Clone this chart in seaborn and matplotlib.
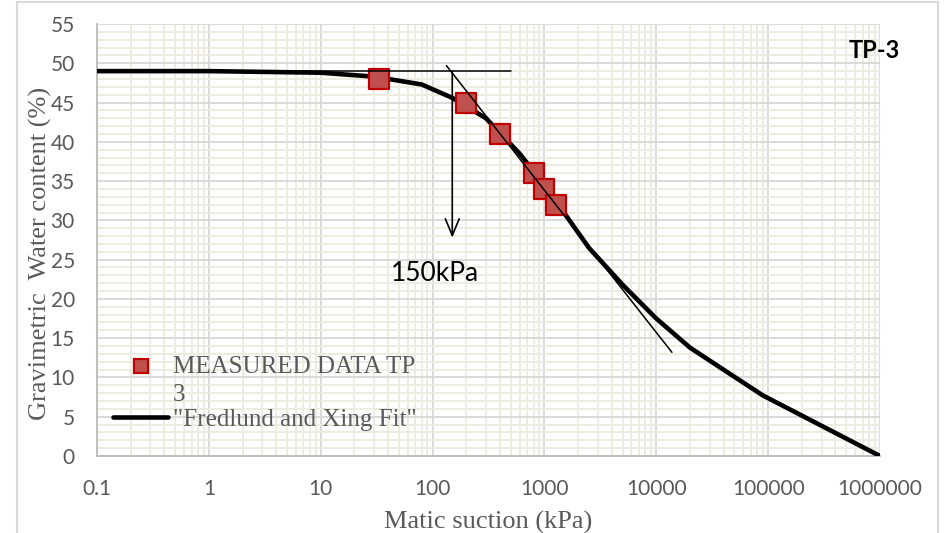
import matplotlib
matplotlib.use("Agg")
import matplotlib.pyplot as plt
import seaborn as sns
import pandas as pd
from matplotlib.lines import Line2D
from matplotlib.patches import Rectangle
from matplotlib.legend_handler import HandlerLine2D
from matplotlib.ticker import FixedLocator, FixedFormatter, LogLocator, MultipleLocator, NullFormatter

# Measured soil-water characteristic points (TP-3)
measured_suction = [33, 200, 400, 800, 1000, 1260]
measured_water = [48, 45, 41, 36, 34, 32]

# Fredlund and Xing fitted curve
fit_suction = [0.1, 1, 10, 30, 80, 150, 300, 600, 1000, 2500, 5000,
               10000, 20000, 45000, 90000, 1000000]
fit_water = [49.0, 49.0, 48.8, 48.3, 47.3, 45.6, 43.0, 38.5, 34.5, 26.5, 21.8,
             17.5, 13.8, 10.5, 7.7, 0.0]

# Construction lines for the air-entry value
plateau_suction = [0.1, 500]
plateau_water = [49.0, 49.0]
slope_suction = [133, 13800]
slope_water = [49.7, 13.2]
air_entry_kpa = 150
arrow_from_water = 49.0
arrow_to_water = 27.8

x_ticks = [0.1, 1, 10, 100, 1000, 10000, 100000, 1000000]
x_tick_labels = ["0.1", "1", "10", "100", "1000", "10000", "100000", "1000000"]
y_ticks = list(range(0, 56, 5))

sns.set_style("white")
plt.rcParams["font.family"] = ["Lato", "DejaVu Sans"]

W, H = 948, 533
fig = plt.figure(figsize=(W / 100, H / 100), dpi=100)
ax = fig.add_axes([97 / W, 1 - 456 / H, (880 - 97) / W, (456 - 24) / H])

grey_txt = "#595959"
major_grid = "#D9D9D9"
minor_grid = "#EEECE1"

measured = pd.DataFrame({"suction": measured_suction, "water": measured_water})
fit = pd.DataFrame({"suction": fit_suction, "water": fit_water})

sns.lineplot(data=fit, x="suction", y="water", ax=ax, color="black", lw=3.3,
             sort=False, estimator=None, zorder=3, legend=False)
sns.scatterplot(data=measured, x="suction", y="water", ax=ax, marker="s", s=190,
                color="#C0504D", edgecolor="#C00000", linewidth=1.6, zorder=4,
                legend=False)

ax.plot(plateau_suction, plateau_water, color="black", lw=1.1, zorder=5)
ax.plot(slope_suction, slope_water, color="black", lw=1.1, zorder=5)
ax.annotate("", xy=(air_entry_kpa, arrow_to_water), xytext=(air_entry_kpa, arrow_from_water),
            arrowprops=dict(arrowstyle="->,head_length=1.2,head_width=0.5",
                            color="black", lw=1.2, shrinkA=0, shrinkB=0), zorder=5)
ax.text(105, 23.2, "150kPa", fontsize=19, color="black", ha="center", va="center",
        zorder=6)

ax.set_xscale("log")
ax.set_xlim(0.1, 1000000)
ax.set_ylim(0, 55)
ax.xaxis.set_major_locator(FixedLocator(x_ticks))
ax.xaxis.set_major_formatter(FixedFormatter(x_tick_labels))
ax.xaxis.set_minor_locator(LogLocator(base=10, subs=range(2, 10), numticks=50))
ax.xaxis.set_minor_formatter(NullFormatter())
ax.yaxis.set_major_locator(FixedLocator(y_ticks))
ax.yaxis.set_minor_locator(MultipleLocator(1))

ax.grid(which="minor", color=minor_grid, lw=1.4, zorder=0)
ax.grid(which="major", color=major_grid, lw=1.4, zorder=1)
ax.set_axisbelow(True)

for side in ("top", "right"):
    ax.spines[side].set_visible(False)
for side in ("left", "bottom"):
    ax.spines[side].set_color("#BFBFBF")
    ax.spines[side].set_linewidth(1.4)

ax.tick_params(axis="x", which="both", direction="out", length=4.5, width=1.1,
               color="#BFBFBF", labelsize=15, labelcolor=grey_txt, pad=12)
ax.tick_params(axis="y", which="both", length=0, labelsize=15,
               labelcolor=grey_txt, pad=16)

serif = ["Liberation Serif", "DejaVu Serif"]
ax.set_xlabel("Matic suction (kPa)", fontsize=19, color=grey_txt, family=serif)
ax.xaxis.set_label_coords(0.5, -0.127)
ax.set_ylabel("Gravimetric  Water content (%)", fontsize=19, color=grey_txt,
              family=serif)
ax.yaxis.set_label_coords(-0.058, 0.47)

ax.text(1.026, 0.9375, "TP-3", transform=ax.transAxes, fontsize=17,
        fontweight="bold", color="black", ha="right", va="center")


class FirstLineMarkerHandler(HandlerLine2D):
    """Places the legend marker level with the first line of a wrapped label."""

    def __init__(self, lift, **kw):
        super().__init__(**kw)
        self.lift = lift

    def create_artists(self, legend, orig_handle, xdescent, ydescent, width,
                       height, fontsize, trans):
        artists = super().create_artists(legend, orig_handle, xdescent, ydescent,
                                         width, height, fontsize, trans)
        for a in artists:
            a.set_ydata([y + self.lift for y in a.get_ydata()])
        return artists


marker_handle = Line2D([], [], ls="none", marker="s", markersize=10.5,
                       markerfacecolor="#C0504D", markeredgecolor="#C00000",
                       markeredgewidth=1.6)
line_handle = Line2D([], [], color="black", lw=3.3)
handles = [marker_handle, line_handle]
labels = ["MEASURED DATA TP\n3", "\"Fredlund and Xing Fit\""]
leg = ax.legend(handles, labels, loc="upper left",
                bbox_to_anchor=(113 / W, 1 - 356 / H), bbox_transform=fig.transFigure,
                frameon=False, borderpad=0, borderaxespad=0, handlelength=2.2,
                handletextpad=0.2, labelspacing=0.08,
                handler_map={marker_handle: FirstLineMarkerHandler(lift=11)},
                prop={"family": serif, "size": 18})
for t in leg.get_texts():
    t.set_color(grey_txt)
    t.set_linespacing(1.38)

fig.patches.append(Rectangle((17 / W, -0.02), (938 - 17) / W, 1.02 - 2 / H,
                             transform=fig.transFigure, fill=False,
                             edgecolor="#D9D9D9", lw=1.5))

fig.savefig("out.png", dpi=100)
